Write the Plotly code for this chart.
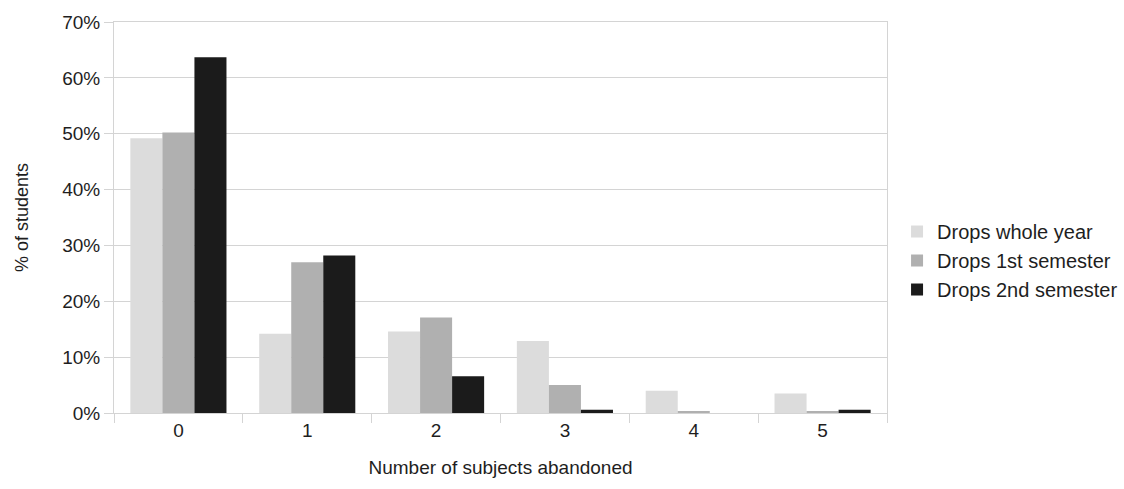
import plotly.graph_objects as go

# Number of subjects a student abandoned
categories = ["0", "1", "2", "3", "4", "5"]

# Share of students (%) per group
drops_whole_year = [49.2, 14.2, 14.6, 12.9, 4.0, 3.5]
drops_1st_semester = [50.2, 27.0, 17.1, 5.0, 0.3, 0.3]
drops_2nd_semester = [63.7, 28.2, 6.6, 0.6, 0.0, 0.6]

series = [
    ("Drops whole year", drops_whole_year, "#dcdcdc"),
    ("Drops 1st semester", drops_1st_semester, "#b0b0b0"),
    ("Drops 2nd semester", drops_2nd_semester, "#1b1b1b"),
]

font_family = "Liberation Sans, Arial, sans-serif"
grid_color = "#d4d4d4"

fig = go.Figure()
for name, values, color in series:
    fig.add_trace(go.Bar(
        x=categories,
        y=values,
        name=name,
        marker=dict(color=color, line=dict(width=0)),
    ))

fig.update_layout(
    width=1124,
    height=489,
    barmode="group",
    bargap=0.254,
    bargroupgap=0,
    plot_bgcolor="white",
    paper_bgcolor="white",
    margin=dict(l=114, r=237, t=22, b=76, autoexpand=False),
    font=dict(family=font_family, size=19, color="#1e1e1e"),
    legend=dict(
        x=1.013, xanchor="left",
        y=0.39, yanchor="middle",
        font=dict(size=20, color="#1e1e1e"),
        itemwidth=30,
        tracegroupgap=0,
    ),
    xaxis=dict(
        title=dict(text="Number of subjects abandoned", font=dict(size=19), standoff=20),
        tickson="boundaries",
        ticks="outside",
        ticklen=9,
        tickcolor=grid_color,
        showgrid=False,
        showline=True,
        mirror=True,
        linecolor=grid_color,
        linewidth=1,
        tickfont=dict(size=19),
    ),
    yaxis=dict(
        title=dict(text="% of students", font=dict(size=18), standoff=28),
        range=[0, 70],
        dtick=10,
        ticksuffix="%",
        ticks="outside",
        ticklen=9,
        tickcolor=grid_color,
        showgrid=True,
        gridcolor=grid_color,
        showline=True,
        mirror=True,
        linecolor=grid_color,
        linewidth=1,
        zeroline=False,
        tickfont=dict(size=19),
    ),
)

fig.write_html("out.html")
